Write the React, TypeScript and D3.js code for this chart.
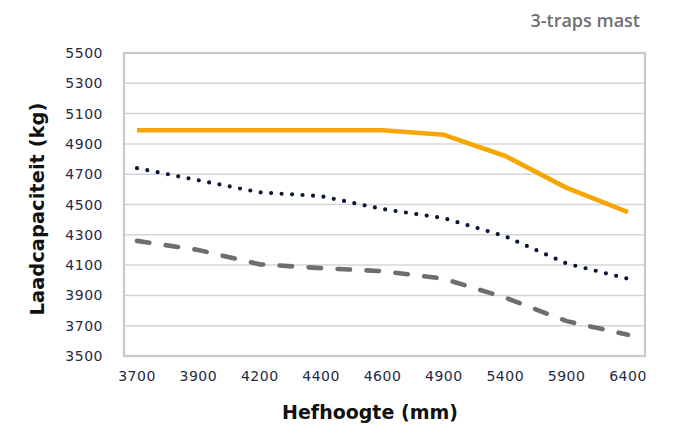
import React from "react";
import * as d3 from "d3";

const categories = ["3700", "3900", "4200", "4400", "4600", "4900", "5400", "5900", "6400"];
const seriesSolid = [4990, 4990, 4990, 4990, 4990, 4960, 4820, 4610, 4450];
const seriesDotted = [4740, 4660, 4580, 4555, 4470, 4410, 4290, 4110, 4010];
const seriesDashed = [4260, 4200, 4105, 4080, 4060, 4010, 3885, 3730, 3640];
const yTicks = [3500, 3700, 3900, 4100, 4300, 4500, 4700, 4900, 5100, 5300, 5500];

const W = 681;
const H = 427;
const plot = { left: 124, right: 645, top: 53, bottom: 356 };

export default function App() {
  const x = d3.scalePoint<string>().domain(categories).range([plot.left + 13, plot.right - 17]);
  const y = d3.scaleLinear().domain([3500, 5500]).range([plot.bottom, plot.top]);
  const line = d3
    .line<number>()
    .x((_, i) => x(categories[i]) as number)
    .y((d) => y(d));

  const tickFont = "'DejaVu Sans', sans-serif";
  return (
    <svg
      width={W}
      height={H}
      style={{ position: "absolute", left: 0, top: 0, background: "#fff" }}
    >
      <text
        x={640}
        y={27}
        textAnchor="end"
        fontFamily="'Open Sans', sans-serif"
        fontWeight={600}
        fontSize={18}
        fill="#6f6f6f"
      >
        3-traps mast
      </text>
      {yTicks.map((t) => (
        <line
          key={"g" + t}
          x1={plot.left}
          x2={plot.right}
          y1={y(t)}
          y2={y(t)}
          stroke="#d3d6d9"
          strokeWidth={1.5}
        />
      ))}
      <rect
        x={plot.left}
        y={plot.top}
        width={plot.right - plot.left}
        height={plot.bottom - plot.top}
        fill="none"
        stroke="#c6cacd"
        strokeWidth={2.2}
      />
      {yTicks.map((t) => (
        <text
          key={"yl" + t}
          x={103}
          y={y(t)}
          dy="0.36em"
          textAnchor="end"
          fontFamily={tickFont}
          fontSize={14}
          letterSpacing={0.5}
          fill="#1f2a44"
        >
          {t}
        </text>
      ))}
      {categories.map((c) => (
        <text
          key={"xl" + c}
          x={x(c) as number}
          y={381}
          textAnchor="middle"
          fontFamily={tickFont}
          fontSize={14}
          letterSpacing={0.5}
          fill="#1f2a44"
        >
          {c}
        </text>
      ))}
      <path
        d={line(seriesDashed) || ""}
        fill="none"
        stroke="#6d6e70"
        strokeWidth={4.6}
        strokeLinecap="round"
        strokeDasharray="12.5 16.5"
      />
      <path
        d={line(seriesDotted) || ""}
        fill="none"
        stroke="#0b1636"
        strokeWidth={4.2}
        strokeLinecap="round"
        strokeDasharray="0 10.5"
      />
      <path
        d={line(seriesSolid) || ""}
        fill="none"
        stroke="#f7a600"
        strokeWidth={4.6}
        strokeLinejoin="round"
      />
      <text
        x={370}
        y={419}
        textAnchor="middle"
        fontFamily="'DejaVu Sans', sans-serif"
        fontWeight={700}
        fontSize={19}
        fill="#111"
      >
        Hefhoogte (mm)
      </text>
      <text
        transform="translate(44,209) rotate(-90)"
        textAnchor="middle"
        fontFamily="'DejaVu Sans', sans-serif"
        fontWeight={700}
        fontSize={19.5}
        fill="#111"
      >
        Laadcapaciteit (kg)
      </text>
    </svg>
  );
}
